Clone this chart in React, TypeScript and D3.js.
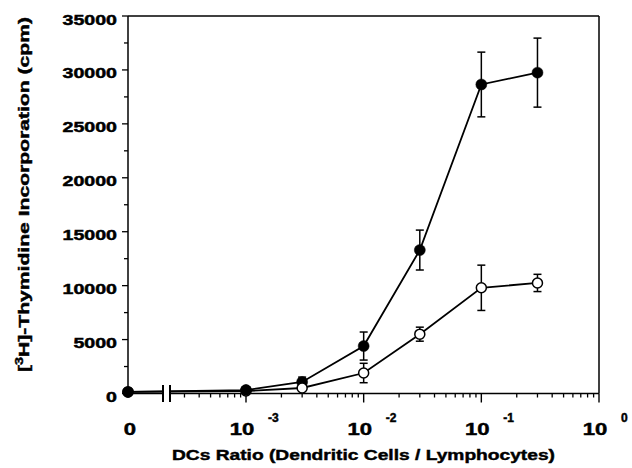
import * as d3 from "d3";
import React from "react";

// DC : lymphocyte ratios (0 is drawn left of the axis break)
const ratios = [0, 1e-3, 3e-3, 1e-2, 3e-2, 1e-1, 3e-1];

// filled circles
const filledMean = [150, 320, 1070, 4400, 13300, 28650, 29750];
const filledErr = [0, 80, 450, 1300, 1850, 3000, 3200];

// open circles
const openMean = [150, 230, 510, 1900, 5500, 9800, 10250];
const openErr = [0, 0, 150, 900, 650, 2100, 800];

const yTicks = [0, 5000, 10000, 15000, 20000, 25000, 30000, 35000];
const xMajor = [1e-3, 1e-2, 1e-1, 1];
const xMajorExp = ["-3", "-2", "-1", "0"];

const W = 632;
const H = 468;
const font = "'Liberation Sans', Arial, Helvetica, sans-serif";

const App: React.FC = () => {
  const x0 = 128;
  const breakLeft = 163;
  const breakRight = 171;
  const xLog = d3.scaleLog().domain([1e-3, 1]).range([246, 599]);
  const xPos = (r: number) => (r === 0 ? x0 : xLog(r));
  const y = d3.scaleLinear().domain([0, 35000]).range([393.5, 16]);

  const yMinor = d3.range(2500, 35000, 5000);
  const xMinor: number[] = [];
  for (let d = -4; d <= -1; d++) {
    for (let k = 2; k <= 9; k++) {
      const v = k * Math.pow(10, d);
      if (xLog(v) > breakRight + 4 && v < 1) xMinor.push(v);
    }
  }

  const line = d3
    .line<[number, number]>()
    .x((d) => xPos(d[0]))
    .y((d) => y(d[1]));

  const series = [
    { mean: filledMean, err: filledErr, filled: true },
    { mean: openMean, err: openErr, filled: false },
  ];

  const axisY = y(0);
  // scanned text is heavy, thicken glyphs a little
  const heavy = { stroke: "#000", strokeWidth: 0.45 };

  return (
    <svg
      width={W}
      height={H}
      style={{ position: "absolute", left: 0, top: 0, background: "#fff" }}
      fontFamily={font}
      fontWeight="bold"
    >
      {/* frame */}
      <line x1={x0} x2={599} y1={y(35000)} y2={y(35000)} stroke="#000" strokeWidth={1.5} />
      <line x1={599} x2={599} y1={y(35000)} y2={axisY} stroke="#000" strokeWidth={1.5} />
      <line x1={x0} x2={x0} y1={y(35000)} y2={axisY} stroke="#000" strokeWidth={1.5} />

      {/* x axis with break */}
      <line x1={x0} x2={breakLeft} y1={axisY} y2={axisY} stroke="#000" strokeWidth={1.5} />
      <line x1={breakRight} x2={599} y1={axisY} y2={axisY} stroke="#000" strokeWidth={1.5} />

      {/* y ticks */}
      {yTicks.map((t) => (
        <g key={t}>
          <line x1={x0 - 6} x2={x0} y1={y(t)} y2={y(t)} stroke="#000" strokeWidth={1.3} />
          <text
            transform={`translate(117,${y(t) + 8.5}) scale(1.4,1)`}
            textAnchor="end"
            fontSize={14}
            {...heavy}
          >
            {t}
          </text>
        </g>
      ))}
      {yMinor.map((t) => (
        <line key={t} x1={x0 - 4} x2={x0} y1={y(t)} y2={y(t)} stroke="#000" strokeWidth={1.3} />
      ))}

      {/* x ticks */}
      {xMinor.map((v) => (
        <line key={v} x1={xLog(v)} x2={xLog(v)} y1={axisY} y2={axisY + 4} stroke="#000" strokeWidth={1.3} />
      ))}
      {xMajor.map((v, i) => (
        <g key={v}>
          <line x1={xLog(v)} x2={xLog(v)} y1={axisY} y2={axisY + 9} stroke="#000" strokeWidth={1.4} />
          <text
            transform={`translate(${xLog(v) - 4},435) scale(1.34,1)`}
            textAnchor="middle"
            fontSize={16.5}
            {...heavy}
          >
            10
          </text>
          <text x={xLog(v) + 22} y={421.5} fontSize={12} {...heavy}>
            {xMajorExp[i]}
          </text>
        </g>
      ))}
      <text transform={`translate(130,435) scale(1.34,1)`} textAnchor="middle" fontSize={16.5} {...heavy}>
        0
      </text>

      {/* lines */}
      {series.map((s, si) => (
        <path
          key={si}
          d={line(ratios.map((r, i) => [r, s.mean[i]] as [number, number])) || ""}
          fill="none"
          stroke="#000"
          strokeWidth={1.8}
        />
      ))}

      {/* axis break */}
      <rect x={breakLeft + 1} y={380} width={breakRight - breakLeft - 2} height={25} fill="#fff" />
      <line x1={breakLeft} x2={breakLeft} y1={385} y2={402} stroke="#000" strokeWidth={2} />
      <line x1={breakRight - 1} x2={breakRight - 1} y1={385} y2={402} stroke="#000" strokeWidth={2} />

      {/* error bars and markers */}
      {series.map((s, si) =>
        ratios.map((r, i) => {
          const cx = xPos(r);
          const e = s.err[i];
          return (
            <g key={`${si}-${i}`}>
              {e > 0 && (
                <g stroke="#000" strokeWidth={1.5}>
                  <line x1={cx} x2={cx} y1={y(s.mean[i] + e)} y2={y(s.mean[i] - e)} />
                  <line x1={cx - 4} x2={cx + 4} y1={y(s.mean[i] + e)} y2={y(s.mean[i] + e)} />
                  <line x1={cx - 4} x2={cx + 4} y1={y(s.mean[i] - e)} y2={y(s.mean[i] - e)} />
                </g>
              )}
              <circle
                cx={cx}
                cy={y(s.mean[i])}
                r={s.filled ? 5.5 : 5}
                fill={s.filled ? "#000" : "#fff"}
                stroke="#000"
                strokeWidth={s.filled ? 0.5 : 1.5}
              />
            </g>
          );
        })
      )}
      {/* filled drawn on top where they overlap */}
      {ratios.map((r, i) =>
        filledMean[i] - openMean[i] > 400 ? null : (
          <circle key={`f${i}`} cx={xPos(r)} cy={y(filledMean[i])} r={5.5} fill="#000" />
        )
      )}

      {/* axis titles */}
      <text
        x={363.5}
        y={460}
        textAnchor="middle"
        fontSize={15.5}
        textLength={383}
        lengthAdjust="spacingAndGlyphs"
        {...heavy}
      >
        DCs Ratio (Dendritic Cells / Lymphocytes)
      </text>
      <text
        transform="translate(29,194.5) rotate(-90)"
        textAnchor="middle"
        fontSize={15.5}
        textLength={355}
        lengthAdjust="spacingAndGlyphs"
        {...heavy}
      >
        [<tspan baselineShift="super" fontSize={10.5}>3</tspan>H]-Thymidine Incorporation (cpm)
      </text>
    </svg>
  );
};

export default App;
